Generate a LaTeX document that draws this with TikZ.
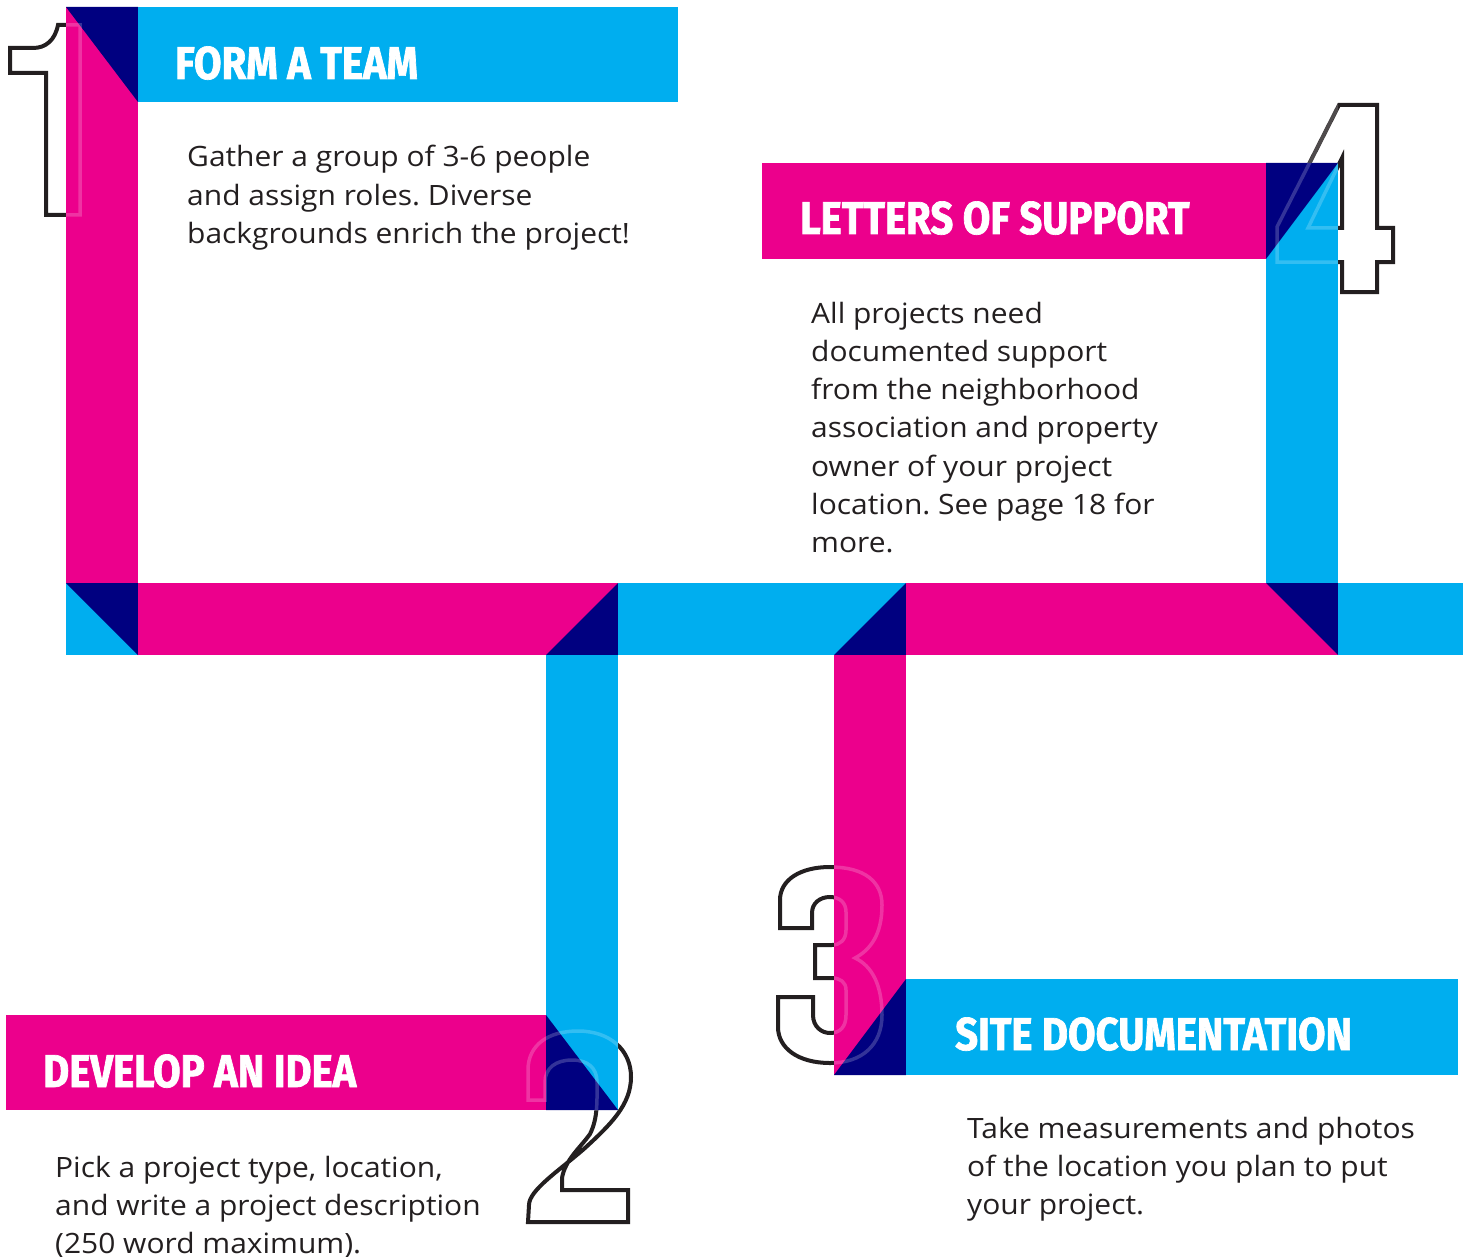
\documentclass[tikz,border=0pt]{standalone}
\usepackage{fontspec}
\setmainfont{Open Sans}[FakeStretch=1.07]
\newfontfamily\headfont{Fira Sans}[FakeStretch=0.87, FakeBold=1.5]
\definecolor{stepcyan}{RGB}{0,174,239}
\definecolor{steppink}{RGB}{236,0,140}
\definecolor{stepnavy}{RGB}{0,0,128}
\definecolor{bodygray}{RGB}{35,31,32}
\usetikzlibrary{positioning}

\tikzset{
  heading/.style={anchor=base west, inner sep=0pt, text=white,
    font=\headfont\bfseries\fontsize{46}{46}\selectfont},
  bodytext/.style={anchor=base west, inner sep=0pt, align=left, text=bodygray,
    font=\fontsize{28}{38.3}\selectfont\frenchspacing},
  digitline/.style={draw=bodygray, line width=4pt, line join=miter},
  digitghost/.style={draw=white, draw opacity=0.2, line width=3.5pt}
}

% outline numerals
\newcommand{\numone}{(58,25) -- (80,25) -- (80,215) -- (46,215) -- (46,73) -- (10,73) -- (10,48) -- (33,48)
  .. controls (46,48) and (55,40) .. (58,25) -- cycle}
\newcommand{\numtwo}{(528,1100) -- (528,1070) .. controls (528,1045) and (548,1031) .. (578,1031)
  .. controls (610,1031) and (631,1050) .. (631,1077) .. controls (631,1105) and (610,1125) .. (585,1148)
  .. controls (560,1170) and (529,1190) .. (529,1205) -- (528,1222) -- (628,1222) -- (628,1190) -- (562,1190)
  -- (562,1178) .. controls (565,1160) and (580,1148) .. (590,1134)
  .. controls (598,1118) and (597,1100) .. (597,1082) .. controls (597,1068) and (588,1060) .. (572,1060)
  .. controls (556,1060) and (545,1068) .. (545,1082) -- (545,1100) -- cycle}
\newcommand{\numthree}{(780,928) -- (780,900) .. controls (780,880) and (800,867) .. (830,867)
  .. controls (865,867) and (882,882) .. (882,905) .. controls (882,935) and (870,950) .. (855,958)
  .. controls (872,966) and (882,985) .. (882,1015) .. controls (882,1045) and (862,1063) .. (830,1063)
  .. controls (798,1063) and (778,1048) .. (778,1027) -- (778,997) -- (813,997) -- (813,1015)
  .. controls (813,1027) and (822,1033) .. (830,1033) .. controls (840,1033) and (846,1027) .. (846,1015)
  -- (846,990) .. controls (846,982) and (840,978) .. (832,978) -- (815,978) -- (815,945) -- (832,945)
  .. controls (840,945) and (846,940) .. (846,930) -- (846,912) .. controls (846,903) and (840,897) .. (830,897)
  .. controls (820,897) and (812,903) .. (812,913) -- (812,928) -- cycle}
\newcommand{\numfour}{(1339,105) -- (1377,105) -- (1377,228) -- (1393,228) -- (1393,262) -- (1377,262)
  -- (1377,292) -- (1342,292) -- (1342,262) -- (1277,262) -- (1277,227) -- cycle
  (1342,158) -- (1342,228) -- (1308,228) -- cycle}

\begin{document}
\begin{tikzpicture}[x=1pt, y=-1pt]
  \useasboundingbox (0,0) rectangle (1463,1257);

  \draw[digitline] \numone;
  \draw[digitline] \numtwo;
  \draw[digitline] \numthree;
  \draw[digitline] \numfour;

  % ribbon across the middle
  \fill[stepcyan] (66,583) rectangle (138,655);
  \fill[stepnavy] (66,583) -- (138,583) -- (138,655) -- cycle;
  \fill[steppink] (138,583) rectangle (546,655);
  \fill[steppink] (546,583) rectangle (618,655);
  \fill[stepnavy] (618,583) -- (618,655) -- (546,655) -- cycle;
  \fill[stepcyan] (618,583) rectangle (834,655);
  \fill[stepcyan] (834,583) rectangle (906,655);
  \fill[stepnavy] (906,583) -- (906,655) -- (834,655) -- cycle;
  \fill[steppink] (906,583) rectangle (1266,655);
  \fill[steppink] (1266,583) rectangle (1338,655);
  \fill[stepnavy] (1266,583) -- (1338,583) -- (1338,655) -- cycle;
  \fill[stepcyan] (1338,583) rectangle (1463,655);

  % step 1
  \fill[steppink] (66,7) rectangle (138,583);
  \fill[stepnavy] (66,7) -- (138,7) -- (138,102) -- cycle;
  \fill[stepcyan] (138,7) rectangle (678,102);

  % step 2
  \fill[stepcyan] (546,655) rectangle (618,1110);
  \fill[stepnavy] (546,1015) -- (546,1110) -- (618,1110) -- cycle;
  \fill[steppink] (6,1015) rectangle (546,1110);

  % step 3
  \fill[steppink] (834,655) rectangle (906,1075);
  \fill[stepnavy] (906,979) -- (906,1075) -- (834,1075) -- cycle;
  \fill[stepcyan] (906,979) rectangle (1458,1075);

  % step 4
  \fill[stepcyan] (1266,163) rectangle (1338,583);
  \fill[stepnavy] (1266,163) -- (1338,163) -- (1266,259) -- cycle;
  \fill[steppink] (762,163) rectangle (1266,259);

  % numerals showing through the ribbon
  \begin{scope}
    \clip (66,0) rectangle (138,583);
    \draw[digitghost] \numone;
  \end{scope}
  \begin{scope}
    \clip (520,1000) rectangle (618,1110);
    \draw[digitghost] \numtwo;
  \end{scope}
  \begin{scope}
    \clip (834,850) rectangle (906,1075);
    \draw[digitghost] \numthree;
  \end{scope}
  \begin{scope}
    \clip (1266,100) rectangle (1338,300);
    \draw[digitghost] \numfour;
  \end{scope}

  \node[heading] (hdteam) at (175,79) {FORM A TEAM};
  \node[heading] (hdidea) at (43,1087) {DEVELOP AN IDEA};
  \node[heading] (hdsite) at (955,1050) {SITE DOCUMENTATION};
  \node[heading] (hdletters) at (800,234) {LETTERS OF SUPPORT};

  \node[bodytext] (txteam) at (187,243.6) {Gather a group of 3-6 people\\and assign roles. Diverse\\backgrounds enrich the project!};
  \node[bodytext] (txidea) at (55,1253.6) {Pick a project type, location,\\and write a project description\\(250 word maximum).};
  \node[bodytext] (txsite) at (967,1214.6) {Take measurements and photos\\of the location you plan to put\\your project.};
  \node[bodytext] (txletters) at (811,552.8) {All projects need\\documented support\\from the neighborhood\\association and property\\owner of your project\\location. See page 18 for\\more.};
\end{tikzpicture}
\end{document}
